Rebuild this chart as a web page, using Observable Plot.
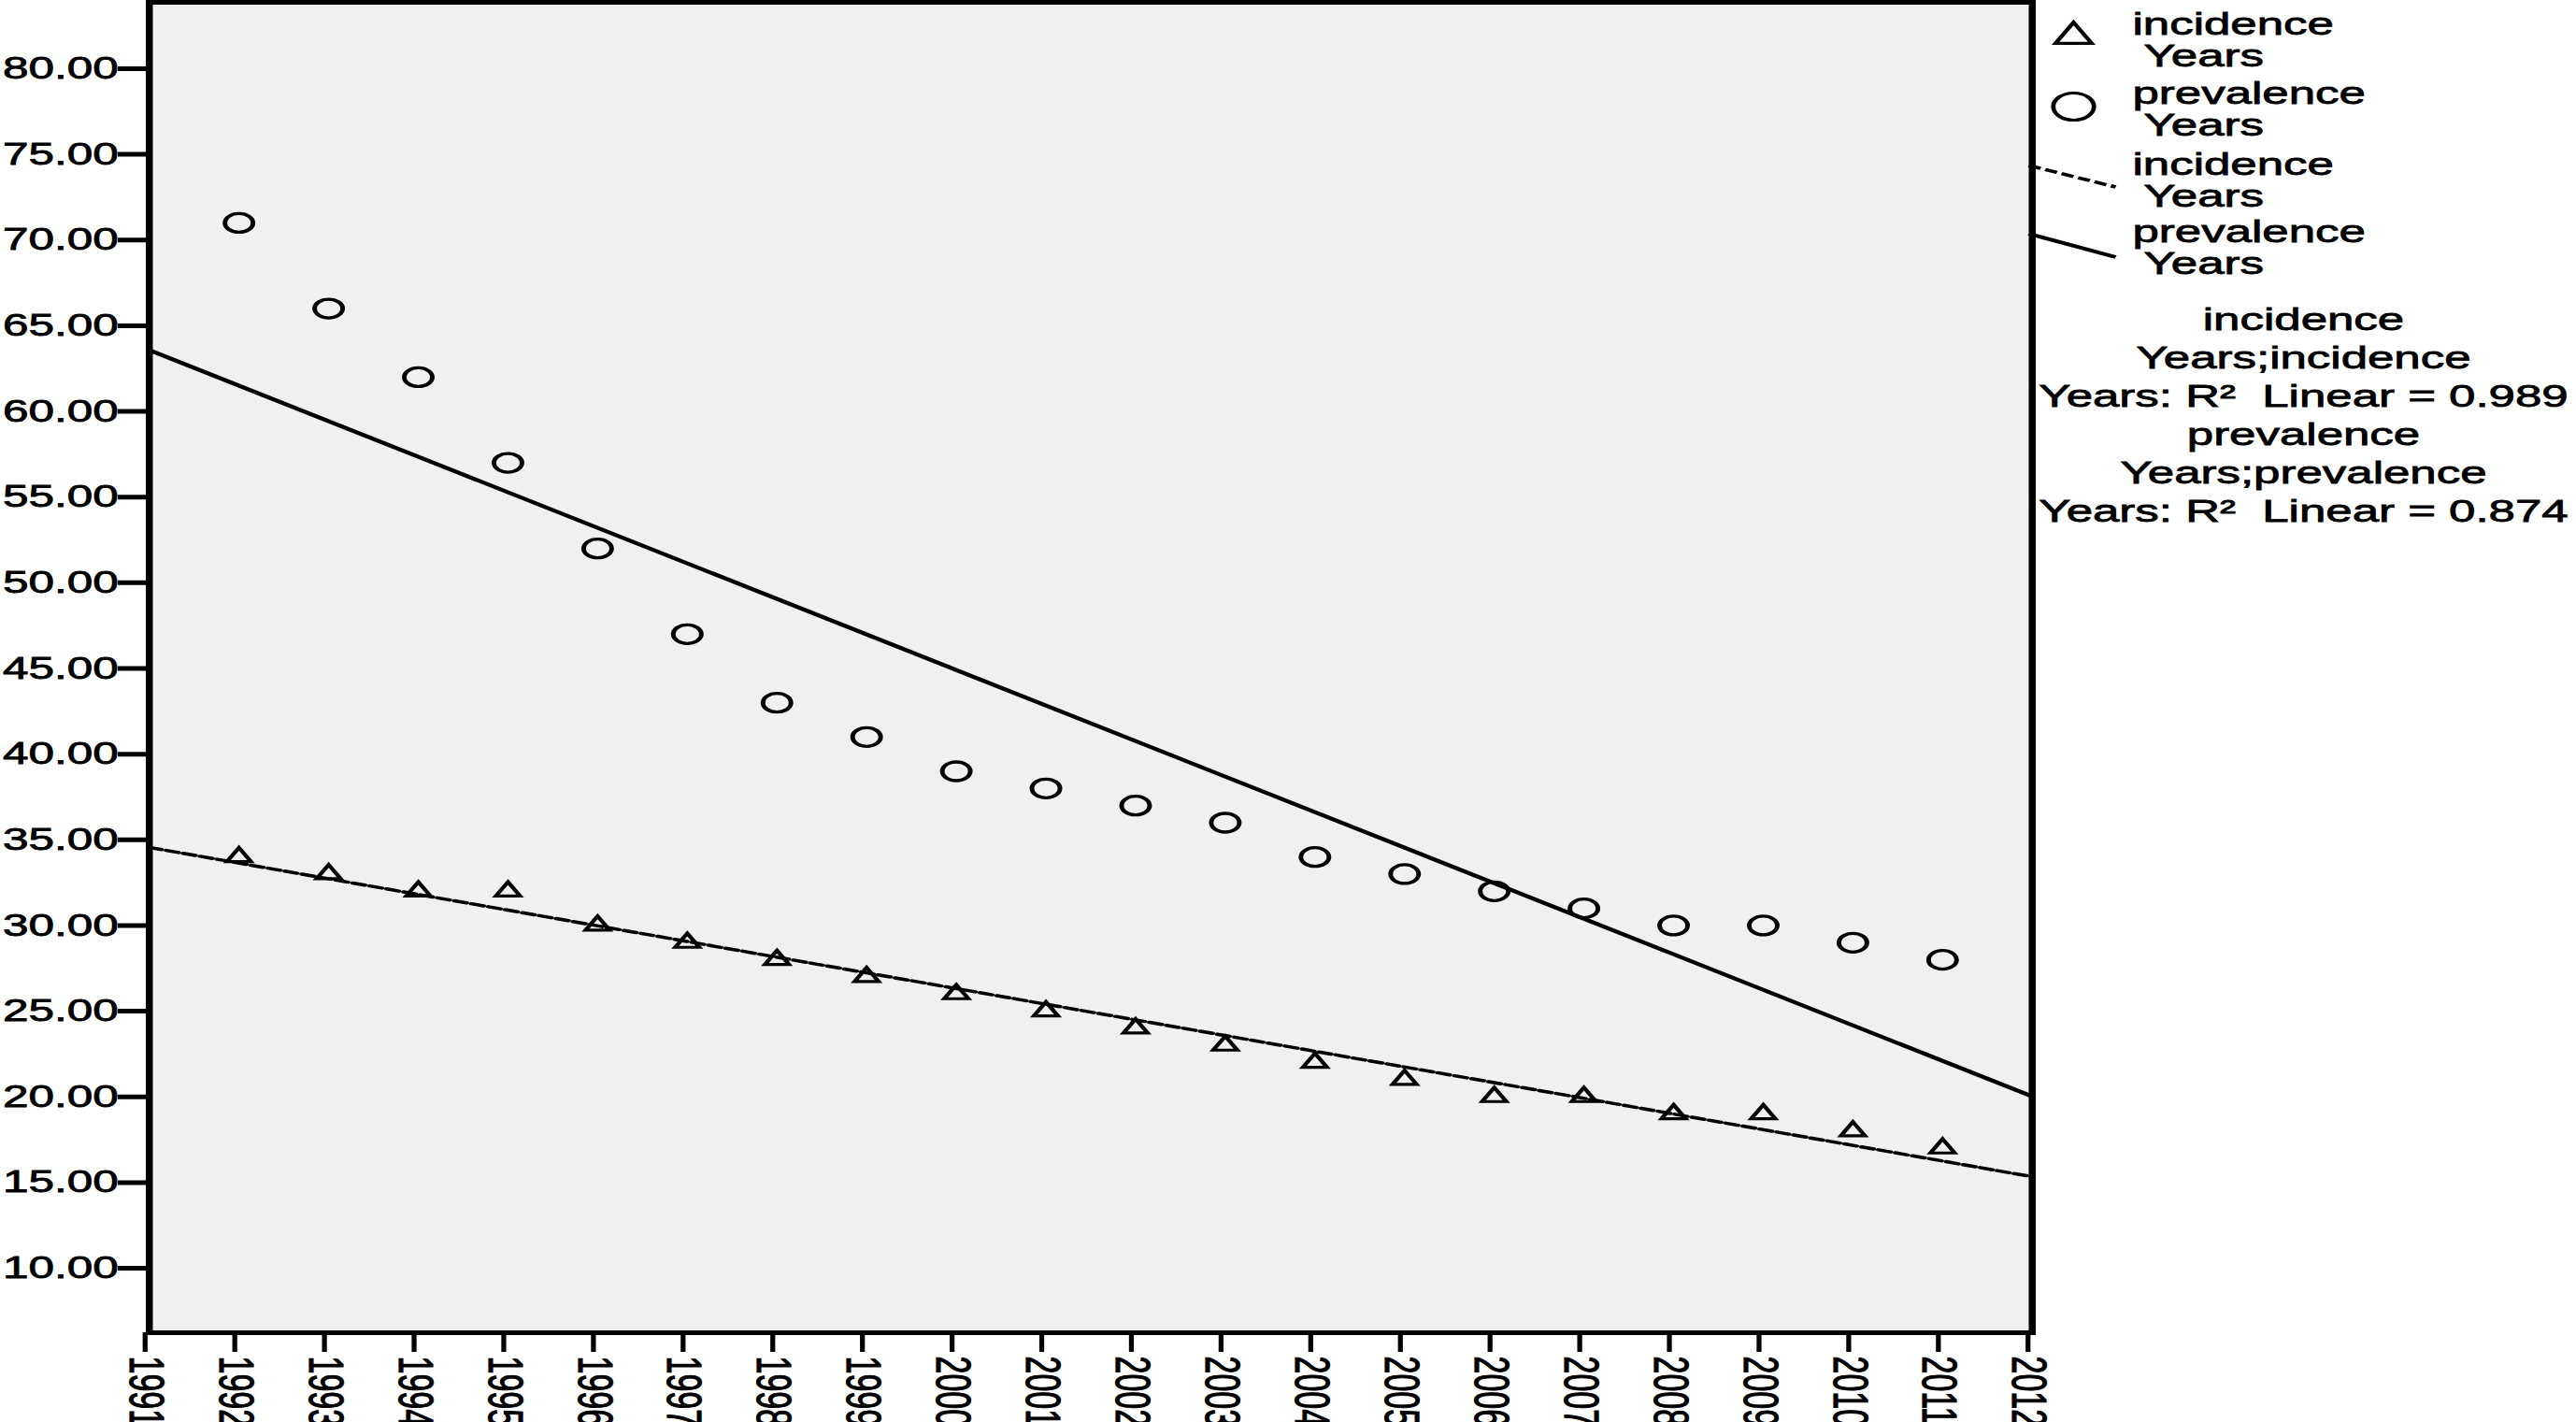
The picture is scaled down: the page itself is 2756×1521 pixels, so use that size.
<!DOCTYPE html>
<html>
<head>
<meta charset="utf-8">
<script src="https://cdn.jsdelivr.net/npm/d3@7"></script>
<script src="https://cdn.jsdelivr.net/npm/@observablehq/plot@0.6"></script>
<style>
  html, body { margin: 0; padding: 0; background: #ffffff; overflow: hidden; }
  #stage {
    position: relative; width: 1837px; height: 1521px;
    transform: scaleX(1.5); transform-origin: 0 0;
    font-family: "Liberation Sans", Arial, sans-serif;
  }
  #chart { position: absolute; left: 0; top: 0; }
  #legend { position: absolute; left: 0; top: 0; pointer-events: none; }
  #stage text { stroke: #000; stroke-width: 0.8px; }
</style>
</head>
<body>
<div id="stage">
  <div id="chart"></div>
  <svg id="legend" width="1837" height="620"></svg>
</div>
<script>
// ---- data ----
const years = [1992,1993,1994,1995,1996,1997,1998,1999,2000,2001,2002,2003,2004,2005,2006,2007,2008,2009,2010,2011];
const incidence  = [34,33,32,32,30,29,28,27,26,25,24,23,22,21,20,20,19,19,18,17];
const prevalence = [71,66,62,57,52,47,43,41,39,38,37,36,34,33,32,31,30,30,29,28];
const xTicks = [1991,1992,1993,1994,1995,1996,1997,1998,1999,2000,2001,2002,2003,2004,2005,2006,2007,2008,2009,2010,2011,2012];
const yTicks = [10,15,20,25,30,35,40,45,50,55,60,65,70,75,80];
const xDomain = [1991, 2012];
const yDomain = [6.24, 83.87];
const seriesNames = ["incidence", "prevalence"];
const legendSecondLine = "Years";

// ---- least-squares fits (as in the SPSS fit lines) ----
function fit(xs, ys) {
  const mx = d3.mean(xs), my = d3.mean(ys);
  let sxy = 0, sxx = 0, syy = 0;
  xs.forEach((x, i) => {
    sxy += (x - mx) * (ys[i] - my);
    sxx += (x - mx) ** 2;
    syy += (ys[i] - my) ** 2;
  });
  const b = sxy / sxx;
  return { a: my - b * mx, b, r2: (sxy * sxy) / (sxx * syy) };
}
const fitInc = fit(years, incidence);
const fitPrev = fit(years, prevalence);
const lineInc = xDomain.map(x => ({ x, y: fitInc.a + fitInc.b * x }));
const linePrev = xDomain.map(x => ({ x, y: fitPrev.a + fitPrev.b * x }));

const chart = Plot.plot({
  width: 1837,
  height: 1521,
  marginLeft: 106,
  marginRight: 388,
  marginTop: 2,
  marginBottom: 96,
  style: {
    background: "white",
    color: "black",
    fontFamily: "Liberation Sans, Arial, sans-serif",
    fontSize: "34px",
    overflow: "hidden",
    maxWidth: "none"
  },
  x: { domain: xDomain },
  y: { domain: yDomain },
  marks: [
    Plot.frame({ fill: "#f0f0f0" }),
    Plot.line(lineInc, { x: "x", y: "y", stroke: "black", strokeWidth: 3.5, strokeDasharray: "9,3.5" }),
    Plot.line(linePrev, { x: "x", y: "y", stroke: "black", strokeWidth: 4 }),
    Plot.dot(incidence, { x: (d, i) => years[i], y: d => d, symbol: "triangle", r: 6.4, fill: "none", stroke: "black", strokeWidth: 3.2 }),
    Plot.dot(prevalence, { x: (d, i) => years[i], y: d => d, symbol: "circle", r: 10, fill: "none", stroke: "black", strokeWidth: 3.3 }),
    Plot.frame({ stroke: "black", strokeWidth: 5 }),
    Plot.axisY({ ticks: yTicks, tickFormat: d => d.toFixed(2), tickSize: 22, tickPadding: 0, strokeWidth: 5, label: null, fontSize: 33 }),
    Plot.axisX({ ticks: xTicks, tickFormat: d => String(d), tickRotate: 90, tickSize: 21, tickPadding: 4, strokeWidth: 3.5, label: null, fontSize: 34, dx: -3 })
  ]
});
document.getElementById("chart").appendChild(chart);

// ---- legend (right of the frame) ----
const lg = d3.select("#legend");
const txt = (x, y, s, anchor) => lg.append("text")
  .attr("x", x).attr("y", y).attr("text-anchor", anchor || "start")
  .attr("font-size", 34).attr("fill", "black").text(s);

lg.append("path")
  .attr("d", d3.symbol(d3.symbolTriangle, 290)())
  .attr("transform", "translate(1479,39)")
  .attr("fill", "none").attr("stroke", "black").attr("stroke-width", 3.2);
lg.append("circle").attr("cx", 1479).attr("cy", 114).attr("r", 14.5)
  .attr("fill", "none").attr("stroke", "black").attr("stroke-width", 3.2);
lg.append("line").attr("x1", 1447).attr("y1", 177).attr("x2", 1509).attr("y2", 200)
  .attr("stroke", "black").attr("stroke-width", 3.5).attr("stroke-dasharray", "9,3.5");
lg.append("line").attr("x1", 1447).attr("y1", 250).attr("x2", 1509).attr("y2", 275)
  .attr("stroke", "black").attr("stroke-width", 4);

const entryNames = [seriesNames[0], seriesNames[1], seriesNames[0], seriesNames[1]];
const entryBase = [37, 111, 187, 259];
entryNames.forEach((n, i) => {
  txt(1521, entryBase[i], n);
  txt(1529, entryBase[i] + 34, legendSecondLine);
});

const r2Lines = [
  seriesNames[0],
  `Years;${seriesNames[0]}`,
  `Years: R\u00B2  Linear = ${fitInc.r2.toFixed(3)}`,
  seriesNames[1],
  `Years;${seriesNames[1]}`,
  `Years: R\u00B2  Linear = ${fitPrev.r2.toFixed(3)}`
];
r2Lines.forEach((s, i) => txt(1643, 353 + 41 * i, s, "middle").attr("xml:space", "preserve").style("white-space", "pre"));
</script>
</body>
</html>
